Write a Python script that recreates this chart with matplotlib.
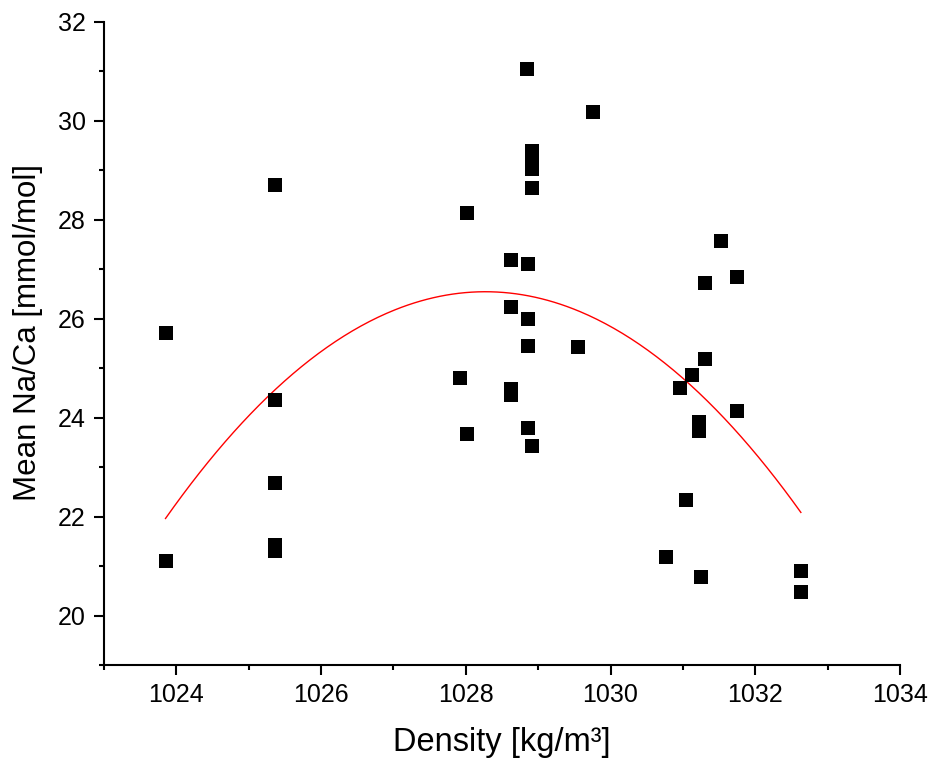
import numpy as np
import matplotlib
matplotlib.use("Agg")
import matplotlib.pyplot as plt
from matplotlib.ticker import MultipleLocator

density = [1023.85, 1023.85, 1025.36, 1025.36, 1025.36, 1025.36, 1025.36,
           1028.84, 1029.76, 1028.01, 1028.62, 1028.86, 1028.62, 1028.86, 1028.86,
           1029.55, 1027.92, 1028.62, 1028.62, 1028.01, 1028.86, 1028.92,
           1028.92, 1028.92, 1028.92, 1028.92,
           1031.52, 1031.31, 1031.75, 1031.31, 1031.13, 1030.96, 1031.22, 1031.22,
           1031.75, 1031.04, 1030.76, 1031.25, 1032.63, 1032.63]
na_ca = [21.11, 25.71, 28.71, 24.36, 22.67, 21.42, 21.31,
         31.05, 30.18, 28.14, 27.18, 27.10, 26.23, 26.00, 25.44,
         25.42, 24.80, 24.59, 24.45, 23.67, 23.80, 23.43,
         29.39, 29.21, 29.03, 28.64,
         27.57, 26.73, 26.84, 25.18, 24.87, 24.61, 23.91, 23.74,
         24.14, 22.33, 21.19, 20.78, 20.90, 20.48]

x_label = "Density [kg/m³]"
y_label = "Mean Na/Ca [mmol/mol]"

plt.rcParams['font.family'] = ['Liberation Sans', 'DejaVu Sans']

fig = plt.figure(figsize=(9.37, 7.73), dpi=100)
ax = fig.add_axes([104/937, 108/773, (900-104)/937, (665-22)/773])

x = np.array(density)
y = np.array(na_ca)
coef = np.polyfit(x, y, 2)
xf = np.linspace(x.min(), x.max(), 300)
ax.plot(xf, np.polyval(coef, xf), color='red', lw=1.0, zorder=2)
ax.scatter(x, y, marker='s', s=110, color='black', zorder=3, linewidths=0)

ax.set_xlim(1023, 1034)
ax.set_ylim(19, 32)
ax.xaxis.set_major_locator(MultipleLocator(2))
ax.xaxis.set_minor_locator(MultipleLocator(1))
ax.yaxis.set_minor_locator(MultipleLocator(1))
ax.set_yticks([20, 22, 24, 26, 28, 30, 32])

for s in ['top', 'right']:
    ax.spines[s].set_visible(False)
for s in ['left', 'bottom']:
    ax.spines[s].set_linewidth(1.5)
ax.tick_params(which='major', direction='out', length=7, width=1.5, labelsize=18, pad=6)
ax.tick_params(which='minor', direction='out', length=3.5, width=1.5)

ax.set_xlabel(x_label, fontsize=23.5, labelpad=14)
ax.set_ylabel(y_label, fontsize=22.5)
ax.yaxis.set_label_coords(-0.077, 0.517)

fig.savefig("out.png", dpi=100)
